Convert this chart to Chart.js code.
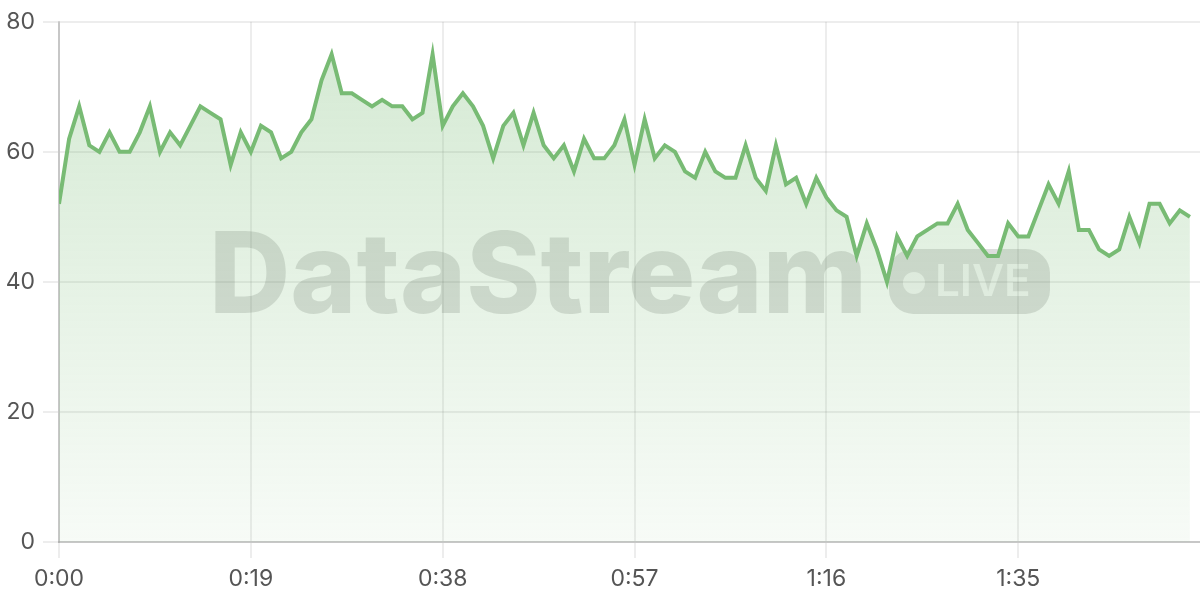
<!DOCTYPE html>
<html>
<head>
<meta charset="utf-8">
<script src="https://cdn.jsdelivr.net/npm/chart.js@4.4.0/dist/chart.umd.min.js"></script>
<style>
  html, body { margin: 0; padding: 0; background: #fff; }
  #wrap { width: 1200px; height: 600px; }
</style>
</head>
<body>
<div id="wrap"><canvas id="streamChart"></canvas></div>
<script>
// one reading per second, 0:00 .. 1:52
const seconds = [];
for (let s = 0; s <= 112; s++) seconds.push(s);
const readings = [
  52,62,67,61,60,63,60,60,63,67,
  60,63,61,64,67,66,65,58,63,60,
  64,63,59,60,63,65,71,75,69,69,
  68,67,68,67,67,65,66,75,64,67,
  69,67,64,59,64,66,61,66,61,59,
  61,57,62,59,59,61,65,58,65,59,
  61,60,57,56,60,57,56,56,61,56,
  54,61,55,56,52,56,53,51,50,44,
  49,45,40,47,44,47,48,49,49,52,
  48,46,44,44,49,47,47,51,55,52,
  57,48,48,45,44,45,50,46,52,52,
  49,51,50
];
const yTicks = [0, 20, 40, 60, 80];
const xTickStep = 19;

function fmtTime(v){
  const m = Math.floor(v / 60), s = v % 60;
  return m + ':' + (s < 10 ? '0' + s : s);
}

// big faded "DataStream • LIVE" mark behind the plot
const watermark = {
  id: 'watermark',
  beforeDraw(chart){
    const {ctx, chartArea} = chart;
    const cx = (chartArea.left + chartArea.right) / 2;
    const cy = (chartArea.top + chartArea.bottom) / 2;
    ctx.save();
    ctx.font = '800 116px Inter';
    const w0 = ctx.measureText('DataStream').width;
    const size = 116 * 658 / w0;
    ctx.font = '800 ' + size + 'px Inter';
    const textW = ctx.measureText('DataStream').width;
    const badgeW = 161, badgeH = 65, gap = 22;
    const total = textW + gap + badgeW;
    const left = cx - total / 2;
    ctx.fillStyle = 'rgba(0,0,0,0.13)';
    ctx.textBaseline = 'alphabetic';
    ctx.textAlign = 'left';
    ctx.fillText('DataStream', left, cy + 31);
    const bx = left + textW + gap, by = cy - 33;
    ctx.beginPath();
    ctx.roundRect(bx, by, badgeW, badgeH, 24);
    ctx.fill();
    ctx.fillStyle = 'rgba(255,255,255,0.7)';
    ctx.beginPath();
    ctx.arc(bx + 25, cy + 1, 11, 0, Math.PI * 2);
    ctx.fill();
    ctx.font = '600 44px Inter';
    ctx.fillText('LIVE', bx + 46, cy + 14);
    ctx.restore();
  }
};

const ctx = document.getElementById('streamChart').getContext('2d');
new Chart(ctx, {
  type: 'line',
  data: {
    datasets: [{
      label: 'Stream',
      data: seconds.map((s, i) => ({x: s, y: readings[i]})),
      borderColor: '#78bb74',
      borderWidth: 4,
      pointRadius: 0,
      tension: 0,
      fill: 'origin',
      backgroundColor: function(c){
        const area = c.chart.chartArea;
        if (!area) return 'rgba(120,187,116,0.2)';
        const g = c.chart.ctx.createLinearGradient(0, area.top, 0, area.bottom);
        g.addColorStop(0, 'rgba(120,187,116,0.32)');
        g.addColorStop(1, 'rgba(120,187,116,0.06)');
        return g;
      }
    }]
  },
  options: {
    responsive: true,
    maintainAspectRatio: false,
    animation: false,
    layout: {padding: {top: 7, right: 0, left: 0, bottom: 0}},
    plugins: {legend: {display: false}, tooltip: {enabled: false}},
    scales: {
      x: {
        type: 'linear',
        min: 0,
        max: 113,
        ticks: {
          stepSize: xTickStep,
          includeBounds: false,
          autoSkip: false,
          maxRotation: 0,
          padding: 7,
          color: '#555',
          font: {family: 'Inter', size: 23},
          callback: v => fmtTime(v)
        },
        grid: {color: 'rgba(0,0,0,0.07)', lineWidth: 2, tickLength: 16},
        border: {color: 'rgba(0,0,0,0.16)', width: 2},
        afterFit: s => { s.height = 58; }
      },
      y: {
        min: 0,
        max: 80,
        afterBuildTicks: s => { s.ticks = yTicks.map(v => ({value: v})); },
        ticks: {
          padding: 8,
          color: '#555',
          font: {family: 'Inter', size: 23}
        },
        grid: {color: 'rgba(0,0,0,0.07)', lineWidth: 2, tickLength: 16},
        border: {color: 'rgba(0,0,0,0.16)', width: 2},
        afterFit: s => { s.width = 59; }
      }
    }
  },
  plugins: [watermark]
});
</script>
</body>
</html>
